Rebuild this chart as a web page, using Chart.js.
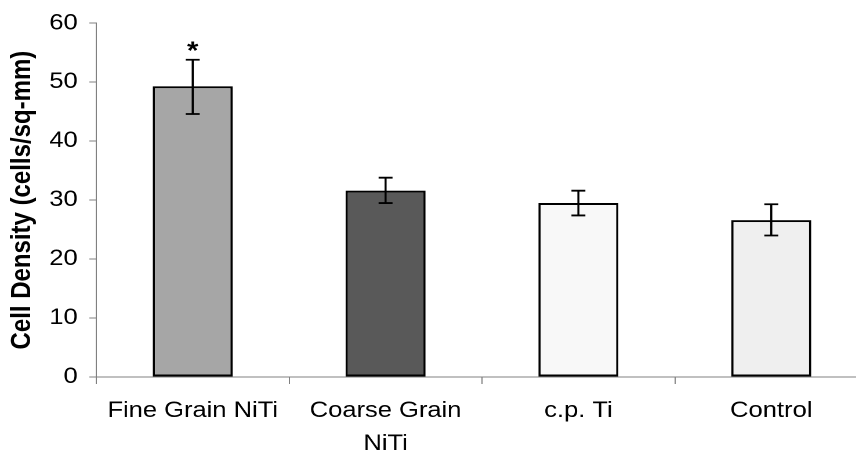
<!DOCTYPE html>
<html lang="en">
<head>
    <meta charset="UTF-8">
    <title>Cell Density</title>
    <script src="https://cdn.jsdelivr.net/npm/chart.js"></script>
    <style>
        body {
            margin: 0;
            padding: 0;
            background: #fff;
            overflow: hidden;
        }
        /* the source figure is stretched sideways, so the chart is too */
        .chart-wrap {
            position: absolute;
            left: 0;
            top: 0;
            width: 750px;
            height: 456px;
            transform: scaleX(1.16);
            transform-origin: 0 0;
        }
    </style>
</head>
<body>
    <div class="chart-wrap">
        <canvas id="densityChart"></canvas>
    </div>

    <script>
        const categories = ['Fine Grain NiTi', ['Coarse Grain', 'NiTi'], 'c.p. Ti', 'Control'];
        const density = [49.3, 31.6, 29.5, 26.6];
        const errLow = [44.6, 29.5, 27.4, 24.0];
        const errHigh = [53.8, 33.8, 31.6, 29.3];
        const significant = [true, false, false, false];
        const barColors = ['#a6a6a6', '#595959', '#f8f8f8', '#efefef'];
        const yTicks = [0, 10, 20, 30, 40, 50, 60];

        const axisGray = '#808080';
        const font = 'Liberation Sans, Arial, sans-serif';

        const errorBars = {
            id: 'errorBars',
            afterDatasetsDraw(chart) {
                const ctx = chart.ctx;
                const y = chart.scales.y;
                const meta = chart.getDatasetMeta(0);
                ctx.save();
                ctx.strokeStyle = '#000';
                ctx.lineWidth = 1.8;
                meta.data.forEach((bar, i) => {
                    const x = bar.x;
                    const top = y.getPixelForValue(errHigh[i]);
                    const bottom = y.getPixelForValue(errLow[i]);
                    ctx.beginPath();
                    ctx.moveTo(x, top);
                    ctx.lineTo(x, bottom);
                    ctx.moveTo(x - 6, top);
                    ctx.lineTo(x + 6, top);
                    ctx.moveTo(x - 6, bottom);
                    ctx.lineTo(x + 6, bottom);
                    ctx.stroke();
                    if (significant[i]) {
                        ctx.fillStyle = '#000';
                        ctx.font = 'bold 25px ' + font;
                        ctx.textAlign = 'center';
                        ctx.textBaseline = 'alphabetic';
                        ctx.fillText('*', x, top - 1);
                    }
                });
                ctx.restore();
            }
        };

        new Chart(document.getElementById('densityChart'), {
            type: 'bar',
            data: {
                labels: categories,
                datasets: [{
                    data: density,
                    backgroundColor: barColors,
                    borderColor: '#000',
                    borderWidth: 2,
                    borderSkipped: false,
                    barPercentage: 0.415,
                    categoryPercentage: 1
                }]
            },
            options: {
                responsive: true,
                maintainAspectRatio: false,
                animation: false,
                devicePixelRatio: 2,
                layout: {
                    padding: { top: 22, right: 2, left: 0, bottom: 0 }
                },
                plugins: {
                    legend: { display: false },
                    tooltip: { enabled: false }
                },
                scales: {
                    x: {
                        grid: {
                            offset: true,
                            drawOnChartArea: false,
                            drawTicks: true,
                            tickLength: 7,
                            color: axisGray
                        },
                        border: { display: true, color: axisGray, width: 1 },
                        ticks: {
                            color: '#000',
                            padding: 10,
                            maxRotation: 0,
                            autoSkip: false,
                            font: { family: font, size: 22, lineHeight: 1.52 }
                        },
                        afterFit: s => { s.height = 79; }
                    },
                    y: {
                        min: 0,
                        max: 60,
                        afterBuildTicks: s => { s.ticks = yTicks.map(v => ({ value: v })); },
                        grid: {
                            drawOnChartArea: false,
                            drawTicks: true,
                            tickLength: 6,
                            color: axisGray
                        },
                        border: { display: true, color: axisGray, width: 1 },
                        ticks: {
                            color: '#000',
                            padding: 10,
                            font: { family: font, size: 22 }
                        },
                        title: {
                            display: true,
                            text: 'Cell Density (cells/sq-mm)',
                            color: '#000',
                            padding: { top: 5, bottom: 0 },
                            font: { family: font, size: 24, weight: 'bold' }
                        },
                        afterFit: s => { s.width = 83; }
                    }
                }
            },
            plugins: [errorBars]
        });
    </script>
</body>
</html>
